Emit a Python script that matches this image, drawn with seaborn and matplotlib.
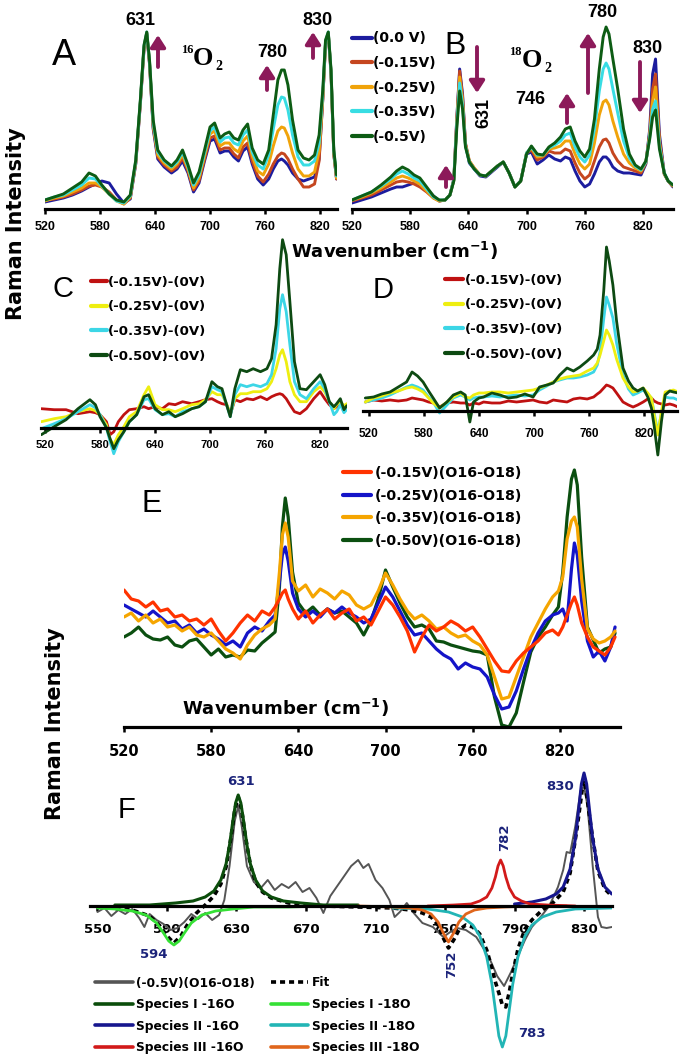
import matplotlib
matplotlib.use("Agg")
import matplotlib.pyplot as plt
from matplotlib.patches import FancyArrowPatch
import seaborn as sns

# ------------------------------------------------------------------ data
# Panel A : 16O2 spectra at several potentials (height above baseline)
wA = [520, 530, 540, 550, 560, 568, 575, 582, 590, 598, 606, 613, 619, 624, 628,
      631, 634, 638, 643, 650, 658, 664, 670, 676, 682, 688, 694, 700, 705, 711,
      716, 721, 726, 731, 736, 741, 746, 752, 758, 764, 769, 774, 778, 781, 785,
      790, 796, 802, 808, 814, 819, 823, 826, 829, 832, 835, 838]
A_00 = [7, 9, 11, 14, 18, 22, 25, 28, 26, 15, 6, 10, 45, 105, 160, 175, 145, 80, 50, 42,
        36, 40, 48, 36, 17, 26, 48, 68, 70, 56, 58, 58, 52, 48, 58, 62, 45, 30, 24, 30,
        40, 48, 50, 48, 44, 36, 30, 28, 30, 32, 50, 110, 165, 175, 135, 55, 30]
A_015 = [9, 10, 12, 15, 19, 23, 24, 22, 17, 9, 5, 11, 46, 106, 161, 176, 146, 82, 52, 44,
         38, 42, 51, 38, 19, 28, 50, 71, 73, 59, 61, 61, 55, 51, 62, 66, 48, 33, 27, 35,
         45, 53, 56, 55, 50, 40, 30, 22, 22, 25, 48, 110, 166, 176, 136, 55, 30]
A_025 = [8, 11, 13, 17, 21, 26, 26, 22, 15, 8, 5, 12, 47, 107, 162, 176, 147, 84, 54, 46,
         40, 45, 54, 40, 21, 31, 53, 75, 78, 63, 66, 66, 60, 57, 68, 73, 53, 38, 34, 45,
         63, 78, 82, 81, 73, 56, 40, 33, 33, 37, 58, 112, 166, 176, 137, 56, 31]
A_035 = [9, 12, 14, 19, 24, 31, 30, 23, 15, 8, 6, 13, 48, 108, 163, 177, 148, 86, 57, 48,
         42, 47, 57, 42, 24, 34, 56, 78, 82, 67, 71, 72, 66, 64, 74, 79, 57, 44, 40, 54,
         80, 104, 112, 111, 99, 74, 52, 44, 44, 48, 66, 116, 168, 177, 138, 58, 33]
A_050 = [9, 12, 15, 21, 27, 36, 33, 24, 15, 9, 7, 14, 49, 109, 164, 177, 149, 89, 59, 49,
         43, 49, 59, 44, 26, 37, 59, 82, 86, 71, 75, 77, 71, 69, 79, 85, 61, 49, 45, 59,
         94, 129, 139, 139, 124, 89, 59, 51, 49, 54, 74, 119, 169, 177, 139, 59, 34]

# Panel B : 18O2 spectra
wB = [520, 530, 540, 550, 560, 566, 572, 578, 584, 590, 597, 604, 610, 616, 621,
      625, 628, 631, 634, 637, 641, 646, 652, 658, 664, 670, 676, 682, 688, 694,
      700, 705, 711, 717, 723, 729, 735, 740, 745, 750, 755, 760, 765, 770, 775,
      779, 782, 785, 789, 794, 800, 806, 812, 818, 823, 827, 830, 833, 837, 842, 846, 851]
B_00 = [6, 9, 12, 16, 20, 22, 22, 24, 26, 26, 20, 13, 8, 9, 14, 30, 90, 140, 115, 65,
        46, 40, 33, 32, 37, 42, 47, 36, 22, 28, 55, 57, 45, 49, 54, 50, 48, 52, 50, 38,
        28, 22, 25, 35, 47, 52, 52, 49, 42, 38, 36, 36, 35, 34, 45, 80, 135, 150, 75, 35, 28, 22]
B_015 = [8, 11, 14, 19, 24, 27, 28, 27, 25, 22, 17, 11, 8, 9, 14, 29, 88, 138, 112, 66,
         48, 41, 34, 33, 38, 43, 47, 36, 22, 28, 56, 59, 49, 52, 58, 56, 56, 60, 58, 46,
         36, 30, 34, 48, 62, 69, 70, 66, 56, 48, 42, 40, 38, 36, 46, 76, 120, 135, 70, 35, 28, 23]
B_025 = [9, 12, 16, 21, 27, 31, 33, 31, 28, 25, 18, 11, 8, 9, 14, 29, 86, 132, 108, 64,
         48, 41, 34, 33, 38, 43, 47, 36, 22, 28, 56, 61, 52, 53, 60, 61, 63, 68, 68, 55,
         45, 40, 45, 66, 94, 107, 109, 104, 88, 72, 55, 46, 41, 38, 47, 74, 108, 122, 66, 35, 28, 23]
B_035 = [9, 13, 17, 23, 30, 35, 38, 35, 31, 28, 20, 12, 9, 9, 14, 29, 84, 126, 104, 63,
         47, 40, 34, 33, 38, 43, 47, 36, 22, 28, 56, 62, 54, 54, 61, 64, 68, 74, 76, 62,
         52, 47, 54, 80, 118, 140, 146, 140, 120, 96, 68, 51, 43, 39, 47, 72, 100, 108, 63, 36, 28, 24]
B_050 = [9, 13, 17, 24, 32, 38, 42, 39, 34, 31, 22, 13, 9, 9, 14, 28, 80, 118, 100, 62,
         47, 40, 34, 33, 38, 43, 47, 36, 22, 28, 55, 63, 55, 54, 62, 66, 72, 80, 82, 68,
         58, 52, 60, 90, 140, 172, 182, 175, 150, 120, 80, 55, 44, 40, 48, 70, 92, 99, 60, 36, 28, 24]
AB_LABELS = ["(0.0 V)", "(-0.15V)", "(-0.25V)", "(-0.35V)", "(-0.5V)"]

# Panel C : difference spectra, 16O2
wC = [516, 530, 543, 556, 569, 575, 580, 587, 591, 595, 600, 606, 612, 620, 628,
      633, 640, 648, 655, 662, 670, 680, 688, 695, 702, 708, 713, 718, 722, 727,
      733, 740, 747, 755, 762, 767, 772, 776, 779, 783, 787, 792, 798, 805, 813,
      820, 825, 830, 835, 838, 842, 846, 849]
C_015 = [19, 18, 18, 14, 16, 15, 13, 6, -7, -4, 6, 13, 18, 19, 21, 19, 21, 19, 24, 23,
         26, 24, 26, 28, 29, 26, 24, 23, 13, 28, 26, 29, 28, 31, 28, 31, 33, 34, 33, 29,
         23, 16, 14, 19, 29, 36, 29, 23, 19, 21, 23, 20, 21]
C_025 = [6, 9, 11, 16, 19, 17, 13, 3, -12, -17, -7, 1, 11, 16, 33, 41, 23, 18, 18, 16,
         19, 23, 24, 28, 36, 33, 33, 24, 14, 29, 34, 34, 36, 36, 39, 46, 59, 73, 78, 66,
         46, 33, 26, 26, 36, 41, 36, 26, 19, 23, 26, 22, 24]
C_035 = [-1, 4, 9, 16, 23, 20, 13, 0, -14, -26, -14, -4, 6, 13, 28, 29, 18, 13, 14, 11,
         16, 19, 21, 26, 41, 38, 36, 23, 11, 33, 43, 41, 43, 41, 44, 53, 79, 119, 133, 116,
         83, 46, 33, 29, 39, 46, 39, 26, 13, 16, 23, 15, 18]
C_050 = [-7, 1, 8, 19, 28, 23, 11, 0, -11, -21, -12, -4, 6, 13, 31, 33, 19, 13, 16, 11,
         14, 19, 21, 26, 46, 41, 39, 23, 11, 39, 58, 56, 59, 56, 59, 69, 103, 159, 188, 173,
         126, 66, 39, 38, 46, 53, 43, 26, 21, 24, 29, 18, 22]

# Panel D : difference spectra, 18O2
wD = [516, 525, 534, 543, 552, 561, 567, 573, 579, 585, 590, 597, 605, 612, 620,
      625, 630, 634, 640, 645, 654, 663, 672, 681, 690, 699, 706, 714, 721, 728,
      736, 743, 750, 758, 765, 769, 772, 776, 779, 782, 786, 790, 797, 803, 808,
      813, 819, 824, 828, 831, 835, 839, 843, 848, 852, 857]
D_015 = [9, 11, 10, 11, 10, 11, 13, 12, 11, 9, 8, 4, 8, 9, 8, 8, 6, 8, 7, 9,
         8, 8, 10, 9, 10, 11, 9, 8, 11, 10, 9, 12, 13, 12, 14, 17, 19, 23, 26, 25,
         23, 18, 9, 6, 4, 6, 9, 12, 13, 10, 8, 7, 6, 7, 6, 4]
D_025 = [9, 13, 15, 18, 20, 23, 24, 22, 19, 13, 8, 3, 9, 14, 18, 14, 13, 16, 18, 18,
         19, 19, 18, 19, 20, 21, 23, 26, 29, 32, 34, 35, 36, 40, 43, 48, 56, 70, 81, 76,
         66, 52, 33, 24, 19, 20, 23, 18, 13, -4, -24, 0, 19, 20, 21, 19]
D_035 = [9, 11, 13, 16, 20, 24, 26, 24, 21, 14, 9, -2, 6, 13, 16, 14, 11, 13, 14, 14,
         15, 14, 15, 16, 15, 16, 21, 25, 29, 31, 33, 33, 34, 36, 39, 46, 59, 92, 114, 106,
         93, 68, 36, 22, 16, 18, 21, 17, 13, -2, -21, -2, 14, 13, 13, 11]
D_050 = [13, 14, 17, 19, 24, 29, 39, 35, 29, 20, 13, 3, 9, 16, 19, 16, -11, 9, 13, 14,
         18, 16, 13, 14, 17, 14, 24, 26, 28, 36, 43, 40, 44, 50, 56, 62, 76, 120, 164, 150,
         126, 90, 43, 30, 23, 20, 23, 14, 3, -15, -44, -10, 16, 20, 19, 18]
CD_LABELS = ["(-0.15V)-(0V)", "(-0.25V)-(0V)", "(-0.35V)-(0V)", "(-0.50V)-(0V)"]

# Panel E : O16 - O18 difference spectra
wE = [520, 525, 530, 535, 540, 545, 550, 555, 560, 565, 570, 575, 580, 585, 590, 595,
      600, 605, 610, 615, 620, 624, 627, 629, 631, 633, 636, 640, 645, 650, 655, 660,
      665, 670, 675, 680, 685, 690, 695, 700, 705, 710, 715, 720, 725, 730, 735, 740,
      745, 750, 755, 760, 765, 770, 775, 780, 785, 790, 795, 800, 805, 810, 815, 819,
      822, 825, 828, 830, 832, 835, 839, 843, 847, 851, 855, 858]
E_015 = [137, 128, 126, 120, 125, 116, 118, 110, 112, 106, 108, 102, 108, 96, 86, 94,
         104, 112, 106, 116, 112, 120, 128, 134, 137, 128, 118, 108, 116, 104, 112, 118,
         108, 114, 118, 106, 110, 102, 116, 130, 122, 110, 96, 75, 90, 102, 96, 100,
         106, 102, 96, 100, 90, 78, 66, 56, 55, 66, 74, 80, 86, 94, 97, 92,
         100, 112, 124, 130, 122, 104, 90, 80, 76, 72, 80, 90]
E_025 = [122, 118, 114, 110, 116, 110, 104, 106, 98, 102, 94, 98, 92, 88, 82, 86,
         80, 94, 100, 96, 106, 112, 145, 172, 180, 166, 134, 118, 110, 116, 110, 118,
         114, 120, 114, 110, 104, 108, 124, 140, 130, 116, 102, 92, 94, 86, 78, 72,
         68, 58, 64, 60, 58, 50, 32, 18, 20, 36, 58, 78, 94, 106, 112, 114,
         118, 106, 158, 184, 172, 126, 86, 70, 76, 66, 80, 100]
E_035 = [110, 114, 106, 112, 104, 108, 100, 102, 96, 100, 92, 90, 94, 86, 78, 74,
         68, 82, 92, 98, 102, 108, 155, 192, 204, 190, 146, 136, 142, 130, 138, 134,
         128, 136, 132, 122, 118, 122, 136, 154, 142, 128, 116, 108, 112, 106, 98, 100,
         94, 90, 92, 86, 82, 72, 50, 28, 30, 50, 70, 90, 104, 118, 130, 136,
         150, 188, 206, 210, 200, 148, 98, 88, 84, 86, 90, 96]
E_050 = [90, 94, 100, 92, 88, 87, 90, 82, 80, 86, 88, 80, 72, 78, 70, 72,
         70, 77, 76, 84, 90, 95, 140, 200, 229, 210, 155, 124, 114, 120, 112, 118,
         114, 116, 110, 104, 92, 106, 128, 157, 140, 124, 110, 100, 102, 98, 86, 85,
         82, 80, 78, 76, 75, 72, 30, 2, 0, 14, 45, 75, 90, 100, 112, 120,
         155, 210, 248, 257, 242, 170, 100, 87, 74, 78, 80, 94]
E_LABELS = ["(-0.15V)(O16-O18)", "(-0.25V)(O16-O18)", "(-0.35V)(O16-O18)", "(-0.50V)(O16-O18)"]

# Panel F : (-0.5V)(O16-O18) spectrum, its fit and fitted components
wF = [550, 554, 558, 562, 566, 570, 574, 577, 580, 584, 588, 592, 596, 600, 604, 608,
      612, 616, 620, 623, 626, 629, 631, 633, 636, 640, 644, 648, 652, 656, 660, 664,
      668, 672, 676, 680, 684, 688, 692, 696, 700, 703, 706, 710, 714, 718, 721, 724,
      728, 732, 737, 743, 749, 753, 757, 762, 768, 772, 776, 780, 784, 788, 792, 796,
      800, 805, 810, 815, 818, 820, 822, 825, 828, 830, 832, 835, 838, 840, 843, 846]
F_data = [-6, -2, -10, -4, -8, -3, -12, -21, -8, -14, -18, -24, -22, -16, -8, -13,
          -7, -14, -9, 6, 40, 85, 100, 80, 40, 24, 18, 26, 16, 22, 18, 24,
          14, 18, 8, -7, 10, 20, 30, 40, 46, 38, 42, 26, 18, 6, -11, -6,
          3, -7, -17, -21, -31, -26, -22, -24, -31, -42, -54, -70, -80, -66, -50, -34,
          -21, -11, 0, 19, 36, 54, 53, 80, 115, 120, 100, 40, -11, -21, -22, -21]
fit_w = [550, 570, 580, 586, 590, 594, 598, 602, 607, 612, 617, 621, 624, 627, 629,
         631, 633, 635, 638, 641, 645, 650, 660, 680, 700, 720, 730, 737, 742, 746,
         749, 752, 755, 758, 762, 766, 770, 774, 777, 779, 781, 783, 785, 787, 789,
         792, 796, 800, 806, 812, 818, 822, 826, 830, 834, 838, 842, 846]
fit_v = [-1, -4, -10, -20, -30, -37, -30, -18, -7, 1, 10, 22, 39, 70, 96,
         109, 96, 71, 41, 24, 14, 8, 3, 0, -1, -2, -4, -7, -11, -19,
         -32, -42, -34, -24, -19, -21, -28, -44, -62, -76, -87, -99, -101, -86, -67,
         -43, -23, -14, -4, 3, 14, 33, 78, 130, 79, 35, 17, 10]
I16_w = [560, 580, 595, 605, 612, 617, 621, 624, 626, 628, 629.5, 631, 632.5, 634,
         636, 638, 641, 645, 650, 657, 667, 680, 700]
I16_v = [1, 1, 3, 5, 9, 15, 26, 42, 61, 86, 103, 111, 103, 86, 61, 42, 26, 15, 9, 5, 3, 1, 1]
I18_w = [550, 560, 570, 578, 584, 588, 591, 594, 597, 600, 604, 610, 618, 628, 640, 660, 680]
I18_v = [-2, -3, -5, -9, -17, -27, -35, -39, -35, -27, -17, -9, -5, -3, -1, -1, 0]
II16_w = [790, 800, 808, 814, 818, 822, 825, 827, 828.5, 830, 831.5, 833, 835, 838, 842, 846]
II16_v = [2, 4, 7, 12, 19, 37, 67, 98, 122, 133, 122, 98, 67, 37, 19, 12]
II18_w = [720, 740, 752, 760, 766, 770, 774, 777, 779, 781, 783, 785, 787, 789, 792,
          796, 800, 806, 814, 825, 846]
II18_v = [-2, -3, -6, -11, -19, -30, -51, -78, -104, -130, -141, -130, -104, -78, -51,
          -30, -19, -11, -6, -3, -2]
III16_w = [740, 755, 765, 770, 774, 777, 779, 780.5, 782, 783.5, 785, 787, 790, 794, 799, 809, 825]
III16_v = [0, 1, 2, 5, 9, 18, 29, 40, 46, 40, 29, 18, 9, 5, 2, 1, 0]
III18_w = [700, 720, 730, 737, 742, 746, 749, 752, 755, 758, 762, 767, 774, 784, 800, 820]
III18_v = [0, -1, -2, -4, -8, -16, -27, -36, -27, -16, -8, -4, -2, -1, 0, 0]

TICKS = [520, 580, 640, 700, 760, 820]
TICKS_F = [550, 590, 630, 670, 710, 750, 790, 830]

# ------------------------------------------------------------------ style
W, H = 680, 1059
sns.set_theme(style="white")
plt.rcParams["font.family"] = ["Liberation Sans", "DejaVu Sans"]
plt.rcParams["axes.unicode_minus"] = False
plt.rcParams["text.color"] = "black"
plt.rcParams["xtick.color"] = "black"
plt.rcParams["axes.labelcolor"] = "black"
plt.rcParams["mathtext.fontset"] = "custom"
plt.rcParams["mathtext.rm"] = "DejaVu Sans:bold"
plt.rcParams["mathtext.it"] = "DejaVu Sans:bold"
plt.rcParams["mathtext.bf"] = "DejaVu Sans:bold"

ARROW = "#8c1a5a"
NAVY = "#1b237a"
C_AB = ["#1c1c9e", "#c5461f", "#f0a30a", "#38dde3", "#0d5c14"]
C_CD = ["#bf1111", "#eeee10", "#3cd6e6", "#0d4a12"]
C_E = ["#ff3300", "#1414c8", "#f5a500", "#0b4f10"]

fig = plt.figure(figsize=(W / 100, H / 100), dpi=100)
fig.patch.set_facecolor("white")


def panel(x0, x1, top, bottom, base, xlim):
    ax = fig.add_axes([x0 / W, 1 - bottom / H, (x1 - x0) / W, (bottom - top) / H])
    ax.set_facecolor("none")
    ax.set_xlim(*xlim)
    ax.set_ylim(base - bottom, base - top)
    for s in ("left", "right", "top"):
        ax.spines[s].set_visible(False)
    ax.spines["bottom"].set_position(("data", 0))
    ax.spines["bottom"].set_linewidth(2.3)
    ax.spines["bottom"].set_color("black")
    ax.set_yticks([])
    ax.grid(False)
    return ax


def ticks(ax, vals, family, size, pad):
    ax.set_xticks(vals)
    ax.set_xticklabels([str(v) for v in vals], fontfamily=family, fontsize=size,
                       fontweight="bold", color="black")
    ax.tick_params(axis="x", direction="out", length=3.5, width=1.8, pad=pad,
                   colors="black", bottom=True)


def draw(ax, x, y, color, lw, label=None, **kw):
    sns.lineplot(x=x, y=y, ax=ax, color=color, linewidth=lw, label=label,
                 legend=False, errorbar=None, **kw)
    ax.set_xlabel("")
    ax.set_ylabel("")
    return ax.lines[-1]


def legend(ax, handles, labels, x, top, size, hl, htp, ls, ncol=1, cs=1.0, lw=3.0):
    leg = ax.legend(handles, labels, loc="upper left",
                    bbox_to_anchor=(x / W, 1 - top / H), bbox_transform=fig.transFigure,
                    frameon=False, borderpad=0, borderaxespad=0, handlelength=hl,
                    handletextpad=htp, labelspacing=ls, ncol=ncol, columnspacing=cs,
                    prop={"family": "DejaVu Sans", "weight": "bold", "size": size})
    for ln in leg.get_lines():
        ln.set_linewidth(lw)
    for t in leg.get_texts():
        t.set_color("black")
    return leg


def ftext(x, y, s, **kw):
    kw.setdefault("color", "black")
    fig.text(x / W, 1 - y / H, s, **kw)


def farrow(x, y0, y1):
    fig.add_artist(FancyArrowPatch((x / W, 1 - y0 / H), (x / W, 1 - y1 / H),
                                   transform=fig.transFigure,
                                   arrowstyle="-|>,head_length=0.7,head_width=0.45",
                                   mutation_scale=10, color=ARROW, lw=2.8,
                                   shrinkA=0, shrinkB=0))


# ------------------------------------------------------------------ panel A
axA = panel(45, 337, 15, 212, 209, (520, 838.5))
for vals, col in zip([A_00, A_015, A_025, A_035, A_050], C_AB):
    draw(axA, wA, vals, col, 2.1)
ticks(axA, TICKS, "Liberation Sans", 9, 5.3)

# ------------------------------------------------------------------ panel B
axB = panel(352, 673, 15, 212, 209, (520, 851))
hB = []
for vals, col, lab in zip([B_00, B_015, B_025, B_035, B_050], C_AB, AB_LABELS):
    hB.append(draw(axB, wB, vals, col, 2.1, label=lab))
ticks(axB, TICKS, "Liberation Sans", 9, 5.3)
legend(axB, hB, AB_LABELS, 352, 31.5, 10, 1.44, 0.08, 0.76)

# ------------------------------------------------------------------ panel C
axC = panel(41.3, 347.2, 235, 460, 427.7, (516, 849.5))
hC = []
for vals, col, lab in zip([C_015, C_025, C_035, C_050], C_CD, CD_LABELS):
    hC.append(draw(axC, wC, vals, col, 2.0, label=lab))
ticks(axC, TICKS, "Liberation Sans", 8, 5.1)
legend(axC, hC, CD_LABELS, 91, 275.8, 9.5, 1.21, 0.1, 0.88)

# ------------------------------------------------------------------ panel D
axD = panel(363, 677, 235, 465, 411, (513.5, 855.9))
hD = []
for vals, col, lab in zip([D_015, D_035, D_025, D_050],
                          [C_CD[0], C_CD[2], C_CD[1], C_CD[3]],
                          [CD_LABELS[0], CD_LABELS[2], CD_LABELS[1], CD_LABELS[3]]):
    hD.append(draw(axD, wD, vals, col, 2.0, label=lab))
ticks(axD, TICKS, "Liberation Sans", 8.5, 8.5)
legend(axD, [hD[0], hD[2], hD[1], hD[3]], CD_LABELS, 445, 273.8, 9.5, 1.36, 0.15, 0.88)

# ------------------------------------------------------------------ panel E
axE = panel(124, 620, 460, 730, 727, (520, 861.4))
hE = {}
for vals, col, lab in [(E_050, C_E[3], E_LABELS[3]), (E_025, C_E[1], E_LABELS[1]),
                       (E_035, C_E[2], E_LABELS[2]), (E_015, C_E[0], E_LABELS[0])]:
    hE[lab] = draw(axE, wE, vals, col, 2.3, label=lab)
ticks(axE, TICKS, "DejaVu Sans", 10.5, 8.6)
legend(axE, [hE[l] for l in E_LABELS], E_LABELS, 343, 466, 10.2, 1.97, 0.28, 0.61)

# ------------------------------------------------------------------ panel F
axF = panel(90, 612, 765, 1052, 906, (545.7, 846.1))
h_data = draw(axF, wF, F_data, "#555555", 1.4, label="(-0.5V)(O16-O18)")
h_fit = draw(axF, fit_w, fit_v, "black", 2.6, label="Fit", linestyle=(0, (1.4, 1.1)))
h_I18 = draw(axF, I18_w, I18_v, "#35e035", 2.0, label="Species I -18O")
h_I16 = draw(axF, I16_w, I16_v, "#0b4d0b", 2.2, label="Species I -16O")
h_II18 = draw(axF, II18_w, II18_v, "#22b5b5", 2.0, label="Species II -18O")
h_II16 = draw(axF, II16_w, II16_v, "#16168e", 2.2, label="Species II -16O")
h_III18 = draw(axF, III18_w, III18_v, "#e0661c", 2.0, label="Species III -18O")
h_III16 = draw(axF, III16_w, III16_v, "#d21a1a", 2.0, label="Species III -16O")
ticks(axF, TICKS_F, "DejaVu Sans", 9.5, 8.5)
fh = [h_data, h_I16, h_II16, h_III16, h_fit, h_I18, h_II18, h_III18]
legend(axF, fh, [h.get_label() for h in fh], 95, 976.5, 8.8, 3.1, 0.25, 0.70,
       ncol=2, cs=1.3, lw=2.6)

# ------------------------------------------------------------------ texts
# panel letters
for s, x, y, size in [("A", 64, 65, 26), ("B", 455, 53.5, 23), ("C", 63, 297, 21),
                      ("D", 383, 298, 21), ("E", 152, 512, 22), ("F", 126, 818, 21)]:
    ftext(x, y, s, fontsize=size, ha="center", va="baseline", family="Liberation Sans")

# axis titles
ftext(16, 224, "Raman Intensity", rotation=90, fontsize=15, fontweight="bold",
      family="DejaVu Sans", ha="center", va="center")
ftext(55, 724, "Raman Intensity", rotation=90, fontsize=15, fontweight="bold",
      family="DejaVu Sans", ha="center", va="center")
ftext(394, 251, r"Wavenumber (cm$^{-1}$)", fontsize=13, fontweight="bold",
      family="DejaVu Sans", ha="center", va="center")
ftext(285, 708, r"Wavenumber (cm$^{-1}$)", fontsize=13, fontweight="bold",
      family="DejaVu Sans", ha="center", va="center")

# panel A annotations
bold13 = dict(fontsize=13, fontweight="bold", family="Liberation Sans", ha="center",
              va="baseline")
ftext(140, 25, "631", **bold13)
ftext(272, 57, "780", **bold13)
ftext(317, 25, "830", **bold13)
serif = dict(family="Liberation Serif", fontweight="bold", va="baseline")
ftext(193, 53, "16", fontsize=9, ha="right", **serif)
ftext(193, 65, "O", fontsize=19, ha="left", **serif)
ftext(215, 70, "2", fontsize=10, ha="left", **serif)
farrow(158, 67, 35)
farrow(267, 90, 65)
farrow(313, 58, 32)

# panel B annotations
ftext(602, 17, "780", **bold13)
ftext(647, 53, "830", **bold13)
ftext(530, 104, "746", **bold13)
ftext(484, 113, "631", fontsize=13, fontweight="bold", family="Liberation Sans",
      ha="center", va="center", rotation=90)
ftext(522, 55, "18", fontsize=9, ha="right", **serif)
ftext(522, 67, "O", fontsize=19, ha="left", **serif)
ftext(544, 72, "2", fontsize=10, ha="left", **serif)
farrow(477, 47, 93)
farrow(446, 187, 165)
farrow(567, 123, 93)
farrow(588, 93, 33)
farrow(640, 62, 113)

# panel F annotations
nv = dict(fontsize=9.5, fontweight="bold", family="DejaVu Sans", color=NAVY)
ftext(241, 785, "631", ha="center", va="baseline", **nv)
ftext(154, 958, "594", ha="center", va="baseline", **nv)
ftext(560, 790, "830", ha="center", va="baseline", **nv)
ftext(532, 1037, "783", ha="center", va="baseline", **nv)
ftext(505, 837, "782", ha="center", va="center", rotation=90, **nv)
ftext(452, 964, "752", ha="center", va="center", rotation=90, **nv)

fig.savefig("out.png", dpi=100, facecolor="white")
